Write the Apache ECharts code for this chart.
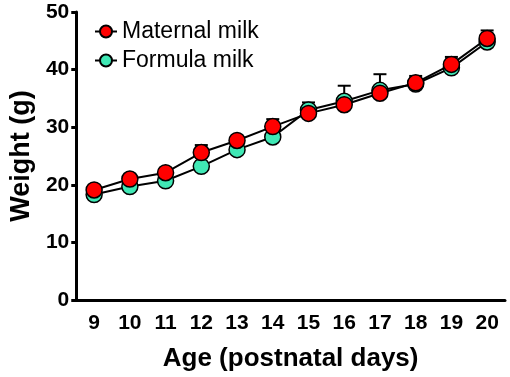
<!DOCTYPE html>
<html>
<head>
<meta charset="utf-8">
<script src="https://cdn.jsdelivr.net/npm/echarts@6/dist/echarts.min.js"></script>
<style>
  html, body { margin: 0; padding: 0; background: #fff; }
  #chart { width: 510px; height: 377px; }
</style>
</head>
<body>
<div id="chart"></div>
<script>
const days = ['9', '10', '11', '12', '13', '14', '15', '16', '17', '18', '19', '20']
const maternal = [19.1, 21.0, 22.1, 25.6, 27.7, 30.1, 32.4, 33.9, 35.9, 37.7, 40.9, 45.4]
const maternalErr = [0.4, 0.4, 0.5, 1.3, 0.5, 1.3, 0.5, 0.5, 0.5, 1.2, 1.3, 1.4]
const formula = [18.3, 19.7, 20.7, 23.2, 26.1, 28.3, 33.0, 34.5, 36.4, 37.5, 40.3, 44.8]
const formulaErr = [0.4, 0.4, 0.4, 0.5, 0.5, 0.5, 1.3, 2.7, 2.8, 0.5, 0.5, 0.6]
const yTicks = [0, 10, 20, 30, 40, 50]

const font = 'Liberation Sans'

const chart = echarts.init(document.getElementById('chart'), null, { renderer: 'canvas' })

// upper whisker only, like the original figure
const errorItem = (params, api) => {
  const x = api.value(0)
  const top = api.coord([x, api.value(1) + api.value(2)])
  const mid = api.coord([x, api.value(1)])
  const half = 6.5
  const style = { stroke: '#000', lineWidth: 2 }
  return {
    type: 'group',
    children: [
      { type: 'line', shape: { x1: mid[0], y1: mid[1], x2: top[0], y2: top[1] }, style },
      { type: 'line', shape: { x1: top[0] - half, y1: top[1], x2: top[0] + half, y2: top[1] }, style }
    ]
  }
}

const errData = (vals, errs) => vals.map((v, i) => [i, v, errs[i]])

const option = {
  animation: false,
  grid: { left: 66, right: 5, top: 12, bottom: 74 },
  legend: {
    orient: 'vertical',
    left: 89,
    top: 15,
    itemWidth: 22,
    itemHeight: 15,
    itemGap: 6,
    data: ['Maternal milk', 'Formula milk'],
    textStyle: { fontFamily: font, fontSize: 23, color: '#000', lineHeight: 22 }
  },
  xAxis: {
    type: 'category',
    data: days,
    name: 'Age (postnatal days)',
    nameLocation: 'middle',
    nameGap: 46,
    nameTextStyle: { fontFamily: font, fontSize: 26, fontWeight: 'bold', color: '#000' },
    axisLine: { lineStyle: { color: '#000', width: 3 } },
    axisTick: { alignWithLabel: true, length: 5, lineStyle: { color: '#000', width: 3 } },
    axisLabel: { fontFamily: font, fontSize: 21, fontWeight: 'bold', color: '#000', margin: 13 }
  },
  yAxis: {
    type: 'value',
    min: yTicks[0],
    max: yTicks[yTicks.length - 1],
    interval: 10,
    name: 'Weight (g)',
    nameLocation: 'middle',
    nameGap: 41,
    nameTextStyle: { fontFamily: font, fontSize: 27, fontWeight: 'bold', color: '#000' },
    axisLine: { show: true, lineStyle: { color: '#000', width: 3 } },
    axisTick: { show: true, length: 5, lineStyle: { color: '#000', width: 3 } },
    axisLabel: { fontFamily: font, fontSize: 21, fontWeight: 'bold', color: '#000', margin: 7 },
    splitLine: { show: false }
  },
  series: [
    {
      type: 'custom',
      name: 'err formula',
      renderItem: errorItem,
      data: errData(formula, formulaErr),
      z: 1,
      silent: true
    },
    {
      type: 'custom',
      name: 'err maternal',
      renderItem: errorItem,
      data: errData(maternal, maternalErr),
      z: 1,
      silent: true
    },
    {
      name: 'Formula milk',
      type: 'line',
      data: formula,
      symbol: 'circle',
      symbolSize: 16,
      z: 2,
      itemStyle: { color: '#40E8B5', borderColor: '#000', borderWidth: 1.5 },
      lineStyle: { color: '#000', width: 2 }
    },
    {
      name: 'Maternal milk',
      type: 'line',
      data: maternal,
      symbol: 'circle',
      symbolSize: 16,
      z: 3,
      itemStyle: { color: '#FF0000', borderColor: '#000', borderWidth: 1.5 },
      lineStyle: { color: '#000', width: 2 }
    }
  ]
}

chart.setOption(option)
</script>
</body>
</html>
